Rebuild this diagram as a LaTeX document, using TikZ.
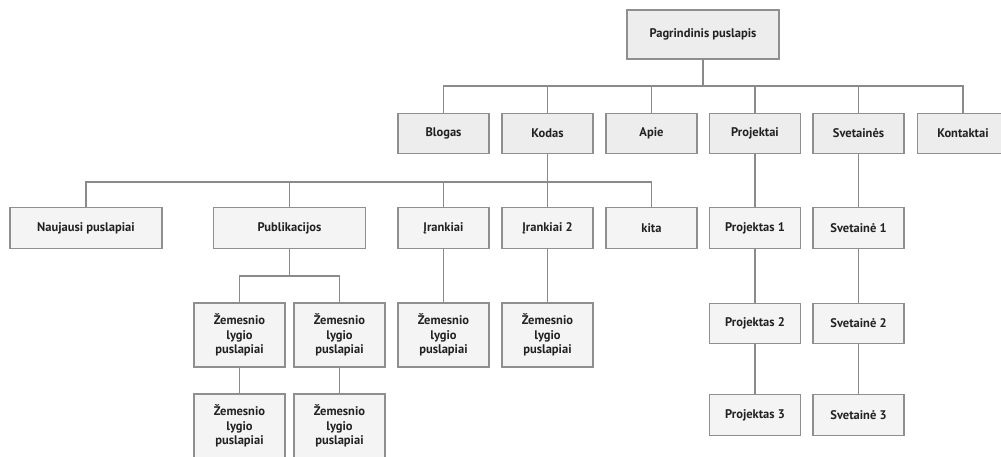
\documentclass[tikz,border=0pt]{standalone}
\usepackage{fontspec}
\setmainfont{PT Sans}
\begin{document}
\begin{tikzpicture}[x=1pt,y=-1pt,
  box/.style={draw=boxline,line width=1.1pt,fill=boxfill,text=txt,
    font=\bfseries\fontsize{12.5}{14.5}\selectfont,align=center,
    inner sep=0pt,minimum height=40.5pt,minimum width=91pt},
  hibox/.style={box,fill=boxfillhi},
  wide/.style={minimum width=152pt},
  tall/.style={minimum height=64pt},
  link/.style={draw=wire,line width=1.3pt}]
\definecolor{boxline}{HTML}{8F8F8F}
\definecolor{boxfill}{HTML}{F4F4F4}
\definecolor{boxfillhi}{HTML}{EDEDED}
\definecolor{wire}{HTML}{8A8A8A}
\definecolor{txt}{HTML}{222222}
\useasboundingbox (0,0) rectangle (1001,456);
\begin{scope}
\clip (0,0) rectangle (1001,456);
% top
\node[hibox,wide,minimum height=49pt] (home) at (703,34.5) {Pagrindinis puslapis};
% first level
\node[hibox] (blog) at (443.5,133.5) {Blogas};
\node[hibox] (kod) at (547.5,133.5) {Kodas};
\node[hibox] (apie) at (651.5,133.5) {Apie};
\node[hibox] (proj) at (755,133.5) {Projektai};
\node[hibox] (svet) at (858.5,133.5) {Svetainės};
\node[hibox] (kont) at (963,133.5) {Kontaktai};
% second level
\node[box,wide] (nauj) at (86,228) {Naujausi puslapiai};
\node[box,wide] (publ) at (289.5,228) {Publikacijos};
\node[box] (ir1) at (443.5,228) {Įrankiai};
\node[box] (ir2) at (547.5,228) {Įrankiai 2};
\node[box] (kita) at (651.5,228) {kita};
\node[box] (pr1) at (755,228) {Projektas 1};
\node[box] (sv1) at (858.5,228) {Svetainė 1};
% third level
\node[box,tall] (z1) at (239.5,335) {Žemesnio\\lygio\\puslapiai};
\node[box,tall] (z2) at (339.5,335) {Žemesnio\\lygio\\puslapiai};
\node[box,tall] (z3) at (443.5,335) {Žemesnio\\lygio\\puslapiai};
\node[box,tall] (z4) at (547.5,335) {Žemesnio\\lygio\\puslapiai};
\node[box] (pr2) at (755,323.5) {Projektas 2};
\node[box] (sv2) at (858.5,323.5) {Svetainė 2};
% fourth level
\node[box,tall] (z5) at (239.5,426) {Žemesnio\\lygio\\puslapiai};
\node[box,tall] (z6) at (339.5,426) {Žemesnio\\lygio\\puslapiai};
\node[box] (pr3) at (755,415) {Projektas 3};
\node[box] (sv3) at (858.5,415) {Svetainė 3};
% bus junctions
\coordinate (bA) at (703,86);
\coordinate (bB) at (547.5,182);
\coordinate (bC) at (289.5,276);
% connectors
\foreach \c in {blog,kod,apie,proj,svet,kont}
  \draw[link] (home.south) -- (bA) -| (\c.north);
\foreach \c in {nauj,publ,ir1,ir2,kita}
  \draw[link] (kod.south) -- (bB) -| (\c.north);
\foreach \c in {z1,z2}
  \draw[link] (publ.south) -- (bC) -| (\c.north);
\draw[link] (ir1) -- (z3);
\draw[link] (ir2) -- (z4);
\draw[link] (z1) -- (z5);
\draw[link] (z2) -- (z6);
\draw[link] (proj) -- (pr1);
\draw[link] (pr1) -- (pr2);
\draw[link] (pr2) -- (pr3);
\draw[link] (svet) -- (sv1);
\draw[link] (sv1) -- (sv2);
\draw[link] (sv2) -- (sv3);
\end{scope}
\end{tikzpicture}
\end{document}
